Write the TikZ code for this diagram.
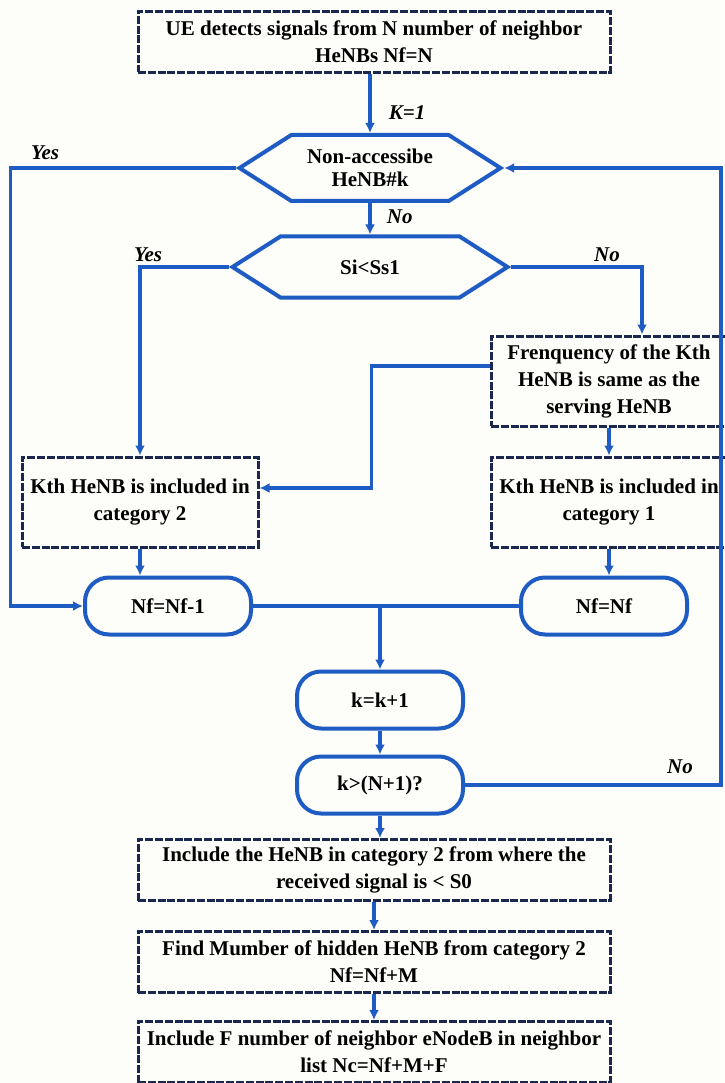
\documentclass[tikz,border=0pt]{standalone}
\usepackage{fontspec}
\setmainfont{Liberation Serif}
\usetikzlibrary{arrows.meta, positioning, shapes.symbols, calc}
\definecolor{fblue}{HTML}{1E5CC4}
\definecolor{fnavy}{HTML}{1A2850}
\definecolor{fpaper}{HTML}{FDFDF9}
\tikzset{
  dbox/.style={draw=fnavy, line width=3pt, dash pattern=on 8pt off 1.8pt,
               minimum width=472pt, minimum height=61pt, align=center,
               font=\bfseries\fontsize{21}{27}\selectfont, inner sep=2pt},
  hexa/.style={draw=fblue, line width=4pt, signal, signal to=west and east,
               signal pointer angle=65, align=center, inner sep=2pt,
               font=\bfseries\fontsize{21}{23}\selectfont},
  pill/.style={draw=fblue, line width=4pt, rounded corners=24pt,
               minimum width=166pt, minimum height=57pt,
               font=\bfseries\fontsize{21}{23}\selectfont},
  arr/.style={-{Latex[length=10pt,width=10pt]}, line width=3.2pt, fblue},
  lnk/.style={line width=3.2pt, fblue},
  lbl/.style={text=black, font=\bfseries\itshape\fontsize{21}{23}\selectfont},
}

\begin{document}
\begin{tikzpicture}[x=1pt, y=-1pt,
    sbox/.style={dbox, minimum width=236pt, minimum height=90pt}]
  \fill[fpaper] (0,0) rectangle (724,1083);
  \useasboundingbox (0,0) rectangle (724,1083);

  \node[dbox] (detect) at (374,42) {UE detects signals from N number of neighbor\\HeNBs Nf=N};
  \node[hexa, minimum width=261pt, minimum height=66pt] (access) at (370,168) {Non-accessibe\\HeNB\#k};
  \node[hexa, minimum width=275pt, minimum height=61pt] (sicmp) at (370,267) {Si<Ss1};
  \node[sbox] (freq) at (609,381) {Frenquency of the Kth\\HeNB is same as the\\serving HeNB};
  \node[sbox] (cat2) at (140,502) {Kth HeNB is included in\\category 2};
  \node[sbox] (cat1) at (609,502) {Kth HeNB is included in\\category 1};
  \node[pill] (nfdec) at (168,606) {Nf=Nf-1};
  \node[pill] (nfkeep) at (604,606) {Nf=Nf};
  \node[pill] (kinc) at (380,700) {k=k+1};
  \node[pill] (kchk) at (380,785) {k>(N+1)?};
  \node[dbox] (hidden) at (374,870) {Include the HeNB in category 2 from where the\\received signal is < S0};
  \node[dbox] (findm) at (374,962) {Find Mumber of hidden HeNB from category 2\\Nf=Nf+M};
  \node[dbox] (nlist) at (374,1052) {Include F number of neighbor eNodeB in neighbor\\list Nc=Nf+M+F};
  \coordinate (rgt) at (721,168);

  \draw[arr] (detect.south -| access.north) -- node[lbl, right=14pt, pos=0.65] {K=1} (access.north);
  \draw[arr] (access.west) -- ++(-225,0) |- (nfdec.west);
  \node[lbl] at (45,153) {Yes};
  \draw[arr] (access.south) -- node[lbl, right=12pt, pos=0.45] {No} (sicmp.north);
  \draw[arr] (sicmp.west) -| (cat2.north);
  \node[lbl] at (148,255) {Yes};
  \draw[arr] (sicmp.east) -| ([xshift=33pt]freq.north);
  \node[lbl] at (607,255) {No};
  \draw[arr] ([yshift=15pt]freq.west) -- ++(-118,0) |- ([yshift=14pt]cat2.east);
  \draw[arr] (freq.south) -- (cat1.north);
  \draw[arr] (cat2.south) -- (cat2.south |- nfdec.north);
  \draw[arr] (cat1.south) -- (cat1.south |- nfkeep.north);
  \draw[lnk] (nfdec.east) -- (nfkeep.west);
  \draw[arr] (kinc.north |- nfdec.east) -- (kinc.north);
  \draw[arr] (kinc.south) -- (kchk.north);
  \draw[arr] (kchk.east) -| (rgt) -- (access.east);
  \node[lbl] at (680,767) {No};
  \draw[arr] (kchk.south) -- (kchk.south |- hidden.north);
  \draw[arr] (hidden.south) -- (findm.north);
  \draw[arr] (findm.south) -- (nlist.north);
\end{tikzpicture}
\end{document}
